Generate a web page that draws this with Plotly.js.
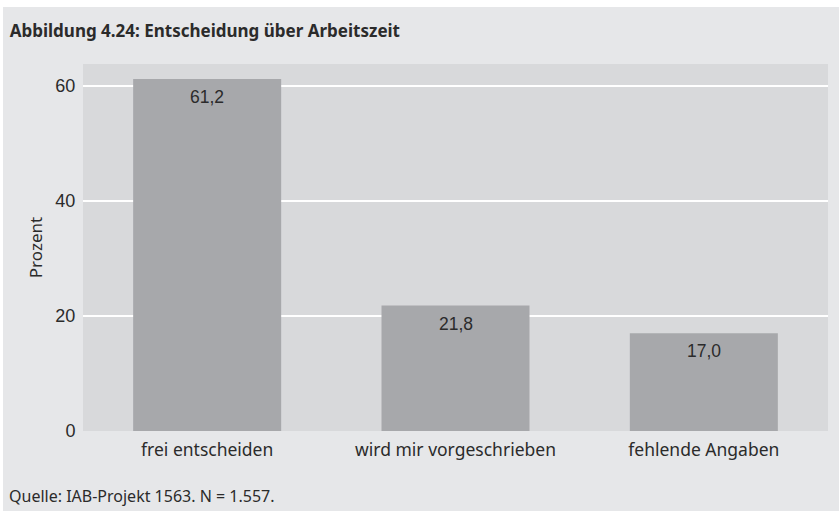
<!DOCTYPE html>
<html>
<head>
<meta charset="utf-8">
<script src="https://cdn.plot.ly/plotly-3.0.1.min.js"></script>
<style>
  html, body { margin: 0; padding: 0; background: #ffffff; width: 839px; height: 511px; overflow: hidden; }
  #chart { position: absolute; left: 3px; top: 7px; width: 836px; height: 504px; }
</style>
</head>
<body>
<div id="chart"></div>
<script>
const categories = ["frei entscheiden", "wird mir vorgeschrieben", "fehlende Angaben"];
const values = [61.2, 21.8, 17.0];
const valueLabels = ["61,2", "21,8", "17,0"];
const yTicks = [0, 20, 40, 60];

const labelFont = "'Noto Sans', 'DejaVu Sans', sans-serif";
const numFont = "'Liberation Sans', Arial, sans-serif";
const textColor = "#2b2b2b";

const trace = {
  type: "bar",
  x: categories,
  y: values,
  marker: { color: "#a7a8ab", line: { width: 0 } },
  hoverinfo: "none"
};

const valueAnnotations = categories.map((c, i) => ({
  x: c, y: values[i], xref: "x", yref: "y",
  text: valueLabels[i],
  showarrow: false,
  xanchor: "center", yanchor: "top",
  yshift: -6,
  font: { family: numFont, size: 17.5, color: textColor }
}));

const layout = {
  width: 836,
  height: 504,
  paper_bgcolor: "#e6e7e9",
  plot_bgcolor: "#d8d9db",
  margin: { l: 80, r: 11, t: 57, b: 80 },
  bargap: 0.404,
  showlegend: false,
  title: {
    text: "<b>Abbildung 4.24: Entscheidung über Arbeitszeit</b>",
    font: { family: labelFont, size: 17, color: textColor },
    xref: "container", x: 0.008, xanchor: "left",
    yref: "container", y: 0.953, yanchor: "middle"
  },
  xaxis: {
    tickfont: { family: labelFont, size: 17.5, color: textColor },
    showgrid: false,
    zeroline: false,
    showline: false,
    ticks: "outside",
    ticklen: 3,
    tickcolor: "rgba(0,0,0,0)",
    fixedrange: true
  },
  yaxis: {
    range: [0, 63.8],
    tickvals: yTicks,
    ticktext: yTicks.map(String),
    tickfont: { family: numFont, size: 18, color: textColor },
    showgrid: true,
    gridcolor: "#ffffff",
    gridwidth: 1.5,
    zeroline: false,
    showline: false,
    ticks: "outside",
    ticklen: 3,
    tickcolor: "rgba(0,0,0,0)",
    title: {
      text: "Prozent",
      font: { family: labelFont, size: 17, color: textColor },
      standoff: 8
    },
    fixedrange: true
  },
  annotations: valueAnnotations.concat([{
    text: "Quelle: IAB-Projekt 1563. N = 1.557.",
    xref: "paper", yref: "paper",
    x: -0.1015, y: -0.177,
    xanchor: "left", yanchor: "middle",
    showarrow: false,
    font: { family: labelFont, size: 16, color: textColor }
  }])
};

Plotly.newPlot("chart", [trace], layout, { displayModeBar: false, staticPlot: true });
</script>
</body>
</html>
